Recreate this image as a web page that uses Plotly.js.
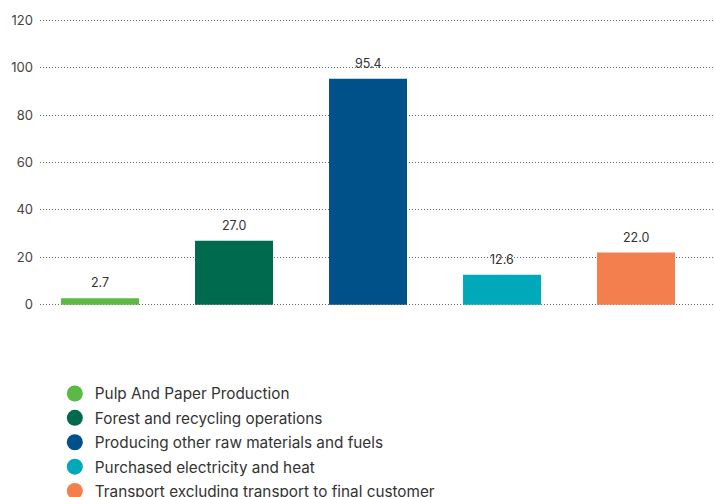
<!DOCTYPE html>
<html>
<head>
<meta charset="utf-8">
<script src="https://cdn.plot.ly/plotly-3.0.1.min.js"></script>
<style>html,body{margin:0;padding:0;background:#fff;}#chart{width:714px;height:497px;}</style>
</head>
<body>
<div id="chart"></div>
<script>
var categories = ["Pulp And Paper Production", "Forest and recycling operations", "Producing other raw materials and fuels", "Purchased electricity and heat", "Transport excluding transport to final customer"];
var values = [2.7, 27.0, 95.4, 12.6, 22.0];
var colors = ["#5cb944", "#006a4e", "#00508a", "#00a9ba", "#f37f4e"];
var yTicks = [0, 20, 40, 60, 80, 100, 120];

var traces = [];
categories.forEach(function (c, i) {
  traces.push({
    type: "bar",
    x: [c],
    y: [values[i]],
    width: 0.582,
    marker: {color: colors[i]},
    showlegend: false,
    hoverinfo: "none"
  });
});
categories.forEach(function (c, i) {
  traces.push({
    type: "scatter",
    mode: "markers",
    x: [null],
    y: [null],
    name: c,
    legendgroup: "g" + i,
    marker: {color: colors[i], size: 16, symbol: "circle"},
    showlegend: true
  });
});

var annotations = categories.map(function (c, i) {
  return {
    x: c,
    y: values[i],
    xref: "x",
    yref: "y",
    text: values[i].toFixed(1),
    showarrow: false,
    yanchor: "bottom",
    yshift: 6,
    font: {family: "Inter, sans-serif", size: 12.5, color: "#333"}
  };
});

var layout = {
  width: 714,
  height: 497,
  margin: {l: 40, r: 0, t: 18, b: 190},
  paper_bgcolor: "#fff",
  plot_bgcolor: "#fff",
  barmode: "overlay",
  font: {family: "Inter, sans-serif", color: "#333"},
  annotations: annotations,
  xaxis: {
    type: "category",
    categoryorder: "array",
    categoryarray: categories,
    range: [-0.448, 4.582],
    showticklabels: false,
    showgrid: false,
    zeroline: false,
    showline: false,
    ticks: ""
  },
  yaxis: {
    range: [-1, 121],
    tickvals: yTicks,
    ticktext: yTicks.map(String),
    showgrid: true,
    gridcolor: "#666",
    griddash: "1px,2px",
    gridwidth: 1,
    zeroline: false,
    showline: false,
    ticks: "",
    tickfont: {family: "Inter, sans-serif", size: 13, color: "#444"},
    ticklabelstandoff: 6
  },
  showlegend: true,
  legend: {
    orientation: "v",
    x: 0.022,
    xanchor: "left",
    xref: "paper",
    yref: "container",
    y: 0.2414,
    yanchor: "top",
    font: {family: "Inter, sans-serif", size: 15.3, color: "#333"},
    tracegroupgap: 1.5,
    itemwidth: 30,
    bgcolor: "rgba(0,0,0,0)"
  }
};

Plotly.newPlot("chart", traces, layout, {displayModeBar: false, staticPlot: true});
</script>
</body>
</html>
